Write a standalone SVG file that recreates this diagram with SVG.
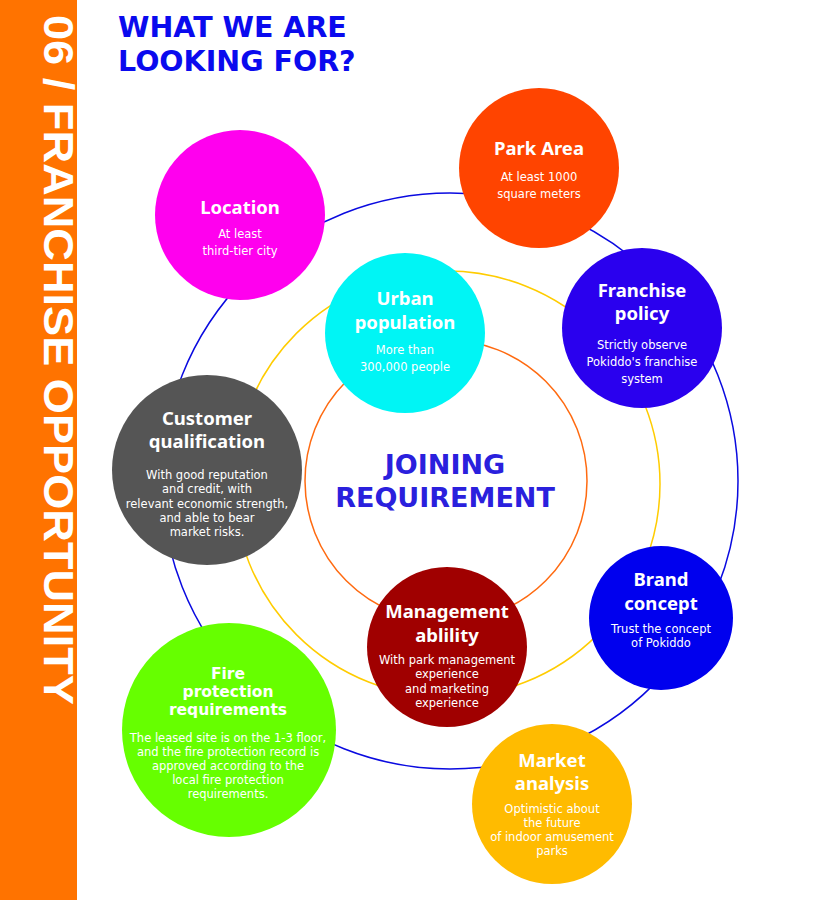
<svg xmlns="http://www.w3.org/2000/svg" width="823" height="900" viewBox="0 0 823 900">
<style>
.t{font-family:"Noto Sans","Open Sans",sans-serif;font-weight:bold;fill:#fff;text-anchor:middle;font-size:18.5px}
.f{font-family:"DejaVu Sans","Noto Sans",sans-serif;font-size:15.5px}
.b{font-family:"DejaVu Sans","Noto Sans",sans-serif;fill:#fff;text-anchor:middle;font-size:11.5px}
.ring{fill:none;stroke-width:1.5}
.h{font-family:"DejaVu Sans","Noto Sans",sans-serif;font-weight:bold}
</style>
<rect width="823" height="900" fill="#fff"/>
<rect x="0" y="0" width="77" height="900" fill="#ff7300"/>
<text transform="translate(44,15) rotate(90)" font-family="Liberation Sans, Arial, sans-serif" font-weight="bold" font-size="42" fill="#fff" textLength="690" lengthAdjust="spacingAndGlyphs">06 / FRANCHISE OPPORTUNITY</text>
<text class="h" x="118" y="37" font-size="28.5" fill="#0a0aee">WHAT WE ARE</text>
<text class="h" x="118" y="71" font-size="28.5" fill="#0a0aee">LOOKING FOR?</text>
<g id="connectors">
<circle class="ring" cx="450" cy="481" r="288" stroke="#0a0ae0"/>
<circle class="ring" cx="447" cy="484" r="213" stroke="#ffcc00"/>
<circle class="ring" cx="446" cy="481" r="141" stroke="#ff6a10"/>
</g>
<g id="center">
<text class="h" x="445" y="474" font-size="27" fill="#2a20dd" text-anchor="middle">JOINING</text>
<text class="h" x="445" y="507" font-size="27" fill="#2a20dd" text-anchor="middle">REQUIREMENT</text>
</g>
<g id="park-area">
<circle cx="539" cy="168" r="80" fill="#ff4400"/>
<text class="t" x="539" y="155">Park Area</text>
<text class="b" x="539" y="181">At least 1000</text>
<text class="b" x="539" y="198">square meters</text>
</g>
<g id="location">
<circle cx="240" cy="215" r="85" fill="#ff00ee"/>
<text class="t" x="240" y="214">Location</text>
<text class="b" x="240" y="238">At least</text>
<text class="b" x="240" y="255">third-tier city</text>
</g>
<g id="urban-population">
<circle cx="405" cy="333" r="80" fill="#00f5f5"/>
<text class="t" x="405" y="305">Urban</text>
<text class="t" x="405" y="329">population</text>
<text class="b" x="405" y="354">More than</text>
<text class="b" x="405" y="371">300,000 people</text>
</g>
<g id="franchise-policy">
<circle cx="642" cy="328" r="80" fill="#2a00ee"/>
<text class="t" x="642" y="297">Franchise</text>
<text class="t" x="642" y="320">policy</text>
<text class="b" x="642" y="349">Strictly observe</text>
<text class="b" x="642" y="366">Pokiddo's franchise</text>
<text class="b" x="642" y="383">system</text>
</g>
<g id="customer-qualification">
<circle cx="207" cy="470" r="95" fill="#555555"/>
<text class="t" x="207" y="425">Customer</text>
<text class="t" x="207" y="448">qualification</text>
<text class="b" x="207" y="479">With good reputation</text>
<text class="b" x="207" y="493">and credit, with</text>
<text class="b" x="207" y="508">relevant economic strength,</text>
<text class="b" x="207" y="522">and able to bear</text>
<text class="b" x="207" y="536">market risks.</text>
</g>
<g id="management-ability">
<circle cx="447" cy="647" r="80" fill="#a00000"/>
<text class="t" x="447" y="618">Management</text>
<text class="t" x="447" y="642">ablility</text>
<text class="b" x="447" y="664">With park management</text>
<text class="b" x="447" y="678">experience</text>
<text class="b" x="447" y="693">and marketing</text>
<text class="b" x="447" y="707">experience</text>
</g>
<g id="brand-concept">
<circle cx="661" cy="618" r="72" fill="#0000ee"/>
<text class="t" x="661" y="586">Brand</text>
<text class="t" x="661" y="610">concept</text>
<text class="b" x="661" y="633">Trust the concept</text>
<text class="b" x="661" y="647">of Pokiddo</text>
</g>
<g id="market-analysis">
<circle cx="552" cy="804" r="80" fill="#ffbb00"/>
<text class="t" x="552" y="767">Market</text>
<text class="t" x="552" y="790">analysis</text>
<text class="b" x="552" y="813">Optimistic about</text>
<text class="b" x="552" y="827">the future</text>
<text class="b" x="552" y="841">of indoor amusement</text>
<text class="b" x="552" y="855">parks</text>
</g>
<g id="fire-protection">
<circle cx="229" cy="730" r="107" fill="#66ff00"/>
<text class="t f" x="228" y="679">Fire</text>
<text class="t f" x="228" y="697">protection</text>
<text class="t f" x="228" y="715">requirements</text>
<text class="b" x="228" y="742">The leased site is on the 1-3 floor,</text>
<text class="b" x="228" y="756">and the fire protection record is</text>
<text class="b" x="228" y="770">approved according to the</text>
<text class="b" x="228" y="784">local fire protection</text>
<text class="b" x="228" y="798">requirements.</text>
</g>
</svg>
